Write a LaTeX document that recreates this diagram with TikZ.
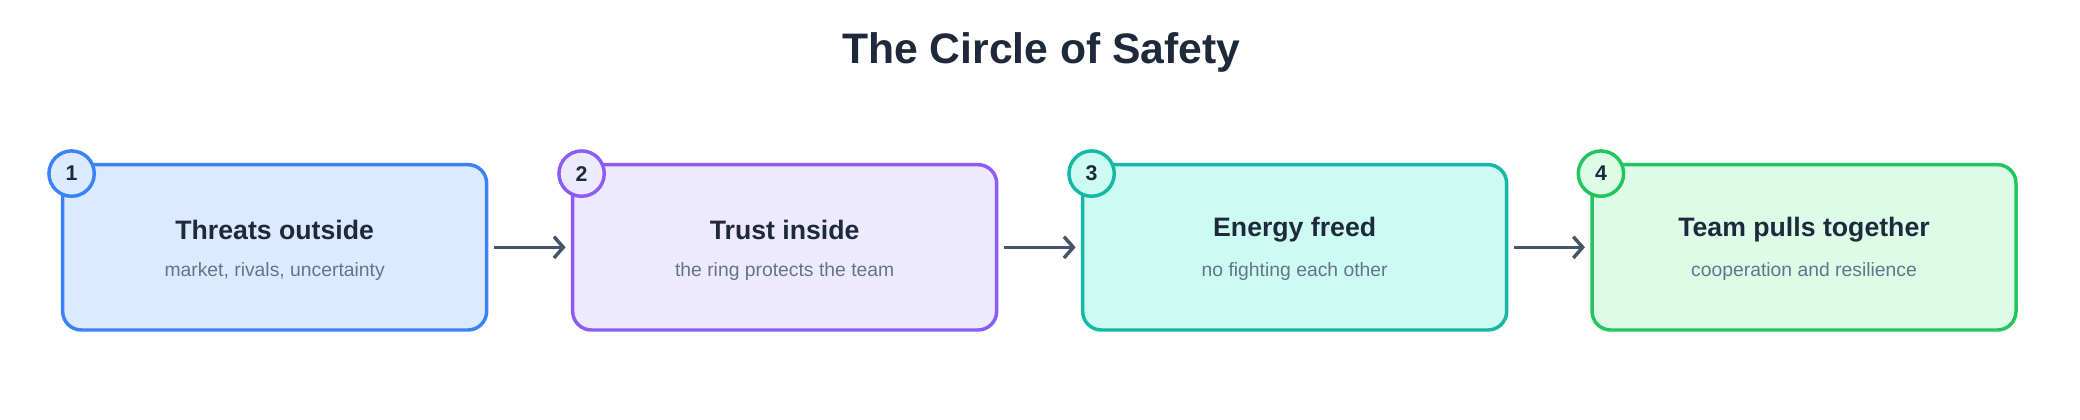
\documentclass[tikz,border=0pt]{standalone}
\usepackage{fontspec}
\setmainfont{Liberation Sans}
\usetikzlibrary{arrows.meta,positioning}
\definecolor{ink}{HTML}{1E293B}
\definecolor{muted}{HTML}{64748B}
\definecolor{arr}{HTML}{475569}
\definecolor{blueE}{HTML}{3B82F6}\definecolor{blueF}{HTML}{DBEAFE}
\definecolor{purpE}{HTML}{8B5CF6}\definecolor{purpF}{HTML}{EDE9FE}
\definecolor{tealE}{HTML}{14B8A6}\definecolor{tealF}{HTML}{CCFBF1}
\definecolor{grnE}{HTML}{22C55E}\definecolor{grnF}{HTML}{DCFCE7}
\tikzset{
  step/.style={draw=#1E,fill=#1F,line width=2.6pt,rounded corners=14pt,
    minimum width=318pt,minimum height=124pt},
  badge/.style={circle,draw=#1E,fill=#1F,line width=2.6pt,minimum size=34pt,
    inner sep=0pt,font=\fontsize{16}{16}\selectfont\bfseries,text=ink},
  head/.style={font=\fontsize{20}{20}\selectfont\bfseries,text=ink},
  sub/.style={font=\fontsize{14.5}{14.5}\selectfont,text=muted},
  link/.style={-{Straight Barb[length=7pt,width=16pt,line width=2.6pt]},arr,line width=2.6pt}
}
\begin{document}
\begin{tikzpicture}[x=1pt,y=1pt]
\useasboundingbox (0,0) rectangle (1560,315);
\node[font=\fontsize{32}{32}\selectfont\bfseries,text=ink] (title) at (781,276) {The Circle of Safety};

\node[step=blue] (s1) at (206,129.5) {};
\node[step=purp] (s2) at (588.5,129.5) {};
\node[step=teal] (s3) at (971,129.5) {};
\node[step=grn] (s4) at (1353,129.5) {};

\node[badge=blue] (b1) at ([xshift=8pt,yshift=-8pt]s1.north west) {1};
\node[badge=purp] (b2) at ([xshift=8pt,yshift=-8pt]s2.north west) {2};
\node[badge=teal] (b3) at ([xshift=8pt,yshift=-8pt]s3.north west) {3};
\node[badge=grn] (b4) at ([xshift=8pt,yshift=-8pt]s4.north west) {4};

\node[head] at ([yshift=13pt]s1.center) {Threats outside};
\node[sub] at ([yshift=-18pt]s1.center) {market, rivals, uncertainty};
\node[head] at ([yshift=13pt]s2.center) {Trust inside};
\node[sub] at ([yshift=-18pt]s2.center) {the ring protects the team};
\node[head] at ([yshift=13pt]s3.center) {Energy freed};
\node[sub] at ([yshift=-18pt]s3.center) {no fighting each other};
\node[head] at ([yshift=13pt]s4.center) {Team pulls together};
\node[sub] at ([yshift=-18pt]s4.center) {cooperation and resilience};

\draw[link] ([xshift=4pt]s1.east) -- ([xshift=-4pt]s2.west);
\draw[link] ([xshift=4pt]s2.east) -- ([xshift=-4pt]s3.west);
\draw[link] ([xshift=4pt]s3.east) -- ([xshift=-4pt]s4.west);
\end{tikzpicture}
\end{document}
